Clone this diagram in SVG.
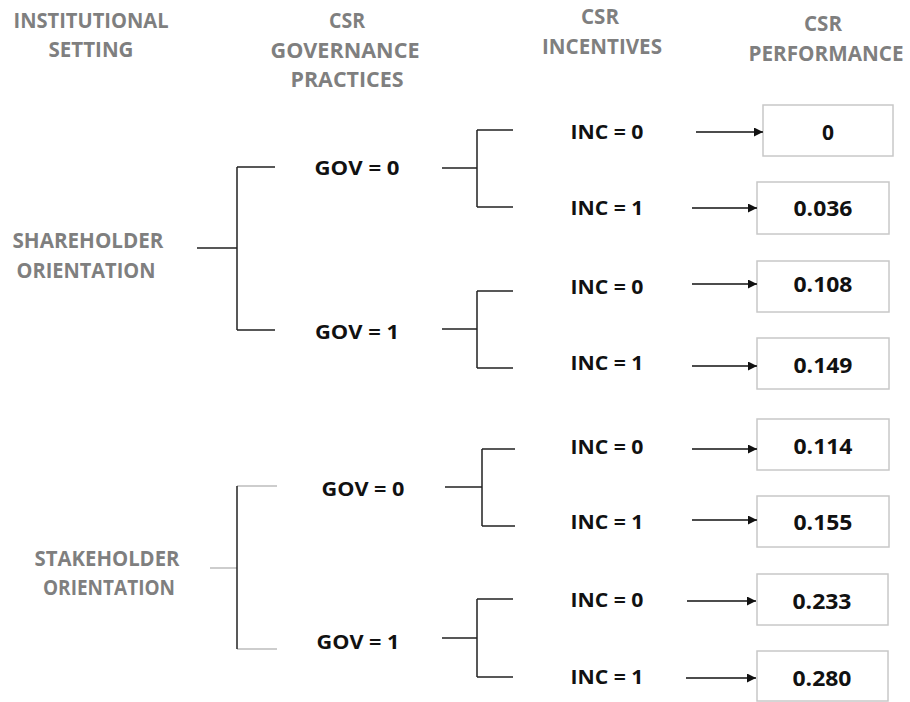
<svg xmlns="http://www.w3.org/2000/svg" width="910" height="702" viewBox="0 0 910 702">
<style>
.hdr{font-family:"Open Sans","Liberation Sans",Arial,sans-serif;font-weight:bold;font-size:21px;fill:#7f7f7f;text-anchor:middle}
.lbl{font-family:"Open Sans","Liberation Sans",Arial,sans-serif;font-weight:bold;font-size:19.5px;fill:#111;text-anchor:middle}
.val{font-family:"Open Sans","Liberation Sans",Arial,sans-serif;font-weight:bold;font-size:21px;fill:#111;text-anchor:middle}
.ln{stroke:#222;stroke-width:1.5;fill:none}
.lt{stroke:#bdbdbd;stroke-width:1.5;fill:none}
.box{fill:#fff;stroke:#c8c8c8;stroke-width:1.5}
.arr{stroke:#111;stroke-width:1.5;fill:none;marker-end:url(#ah)}
</style>
<defs>
<marker id="ah" viewBox="0 0 10 10" refX="10" refY="5" markerWidth="12" markerHeight="9" markerUnits="userSpaceOnUse" orient="auto">
<path d="M0,0 L10,5 L0,10 z" fill="#111"/>
</marker>
</defs>
<rect width="910" height="702" fill="#fff"/>

<g id="headers">
<text class="hdr" x="91" y="28" textLength="155" lengthAdjust="spacingAndGlyphs">INSTITUTIONAL</text>
<text class="hdr" x="91" y="57" textLength="85" lengthAdjust="spacingAndGlyphs">SETTING</text>
<text class="hdr" x="347" y="28" textLength="36" lengthAdjust="spacingAndGlyphs">CSR</text>
<text class="hdr" x="345" y="58" textLength="149" lengthAdjust="spacingAndGlyphs">GOVERNANCE</text>
<text class="hdr" x="347" y="87" textLength="113" lengthAdjust="spacingAndGlyphs">PRACTICES</text>
<text class="hdr" x="600" y="24" textLength="38" lengthAdjust="spacingAndGlyphs">CSR</text>
<text class="hdr" x="602" y="54" textLength="120" lengthAdjust="spacingAndGlyphs">INCENTIVES</text>
<text class="hdr" x="823" y="31" textLength="38" lengthAdjust="spacingAndGlyphs">CSR</text>
<text class="hdr" x="826" y="61" textLength="155" lengthAdjust="spacingAndGlyphs">PERFORMANCE</text>
</g>

<g id="shareholder">
<text class="hdr" x="88" y="248" textLength="151" lengthAdjust="spacingAndGlyphs">SHAREHOLDER</text>
<text class="hdr" x="86" y="278" textLength="139" lengthAdjust="spacingAndGlyphs">ORIENTATION</text>
</g>
<g id="stakeholder">
<text class="hdr" x="107" y="566" textLength="145" lengthAdjust="spacingAndGlyphs">STAKEHOLDER</text>
<text class="hdr" x="109" y="595" textLength="132" lengthAdjust="spacingAndGlyphs">ORIENTATION</text>
</g>

<g id="gov-labels">
<text id="gov0-sh" class="lbl" x="357" y="175" textLength="85" lengthAdjust="spacingAndGlyphs">GOV = 0</text>
<text id="gov1-sh" class="lbl" x="357" y="339" textLength="84" lengthAdjust="spacingAndGlyphs">GOV = 1</text>
<text id="gov0-st" class="lbl" x="363" y="496" textLength="83" lengthAdjust="spacingAndGlyphs">GOV = 0</text>
<text id="gov1-st" class="lbl" x="358" y="649" textLength="83" lengthAdjust="spacingAndGlyphs">GOV = 1</text>
</g>

<g id="inc-labels">
<text class="lbl" x="607" y="139" textLength="73" lengthAdjust="spacingAndGlyphs">INC = 0</text>
<text class="lbl" x="607" y="215" textLength="73" lengthAdjust="spacingAndGlyphs">INC = 1</text>
<text class="lbl" x="607" y="294" textLength="73" lengthAdjust="spacingAndGlyphs">INC = 0</text>
<text class="lbl" x="607" y="370" textLength="73" lengthAdjust="spacingAndGlyphs">INC = 1</text>
<text class="lbl" x="607" y="454" textLength="73" lengthAdjust="spacingAndGlyphs">INC = 0</text>
<text class="lbl" x="607" y="529" textLength="73" lengthAdjust="spacingAndGlyphs">INC = 1</text>
<text class="lbl" x="607" y="607" textLength="73" lengthAdjust="spacingAndGlyphs">INC = 0</text>
<text class="lbl" x="607" y="684" textLength="73" lengthAdjust="spacingAndGlyphs">INC = 1</text>
</g>

<g id="results">
<g id="r1"><rect class="box" x="763" y="105" width="130" height="51"/><text class="val" x="828" y="140">0</text></g>
<g id="r2"><rect class="box" x="757" y="182" width="132" height="52"/><text class="val" x="823" y="216" textLength="59" lengthAdjust="spacingAndGlyphs">0.036</text></g>
<g id="r3"><rect class="box" x="757" y="261" width="132" height="51"/><text class="val" x="823" y="292" textLength="59" lengthAdjust="spacingAndGlyphs">0.108</text></g>
<g id="r4"><rect class="box" x="757" y="338" width="132" height="51"/><text class="val" x="823" y="373" textLength="59" lengthAdjust="spacingAndGlyphs">0.149</text></g>
<g id="r5"><rect class="box" x="757" y="419" width="132" height="51"/><text class="val" x="823" y="454" textLength="59" lengthAdjust="spacingAndGlyphs">0.114</text></g>
<g id="r6"><rect class="box" x="757" y="496" width="132" height="51"/><text class="val" x="823" y="530" textLength="59" lengthAdjust="spacingAndGlyphs">0.155</text></g>
<g id="r7"><rect class="box" x="757" y="574" width="131" height="51"/><text class="val" x="822" y="609" textLength="59" lengthAdjust="spacingAndGlyphs">0.233</text></g>
<g id="r8"><rect class="box" x="757" y="651" width="131" height="50"/><text class="val" x="822" y="686" textLength="59" lengthAdjust="spacingAndGlyphs">0.280</text></g>
</g>

<g id="connectors">
<path class="ln" d="M197,248 H237 M237,167 V330 M237,167 H275 M237,330 H275"/>
<path class="lt" d="M210,568 H237 M237,486 H277 M237,649 H277"/>
<path class="ln" d="M237,486 V649"/>
<path class="ln" d="M442,168 H477 M477,130 V207 M477,130 H513 M477,207 H513"/>
<path class="ln" d="M442,329 H477 M477,291 V368 M477,291 H513 M477,368 H513"/>
<path class="ln" d="M445,487 H482 M482,449 V526 M482,449 H515 M482,526 H515"/>
<path class="ln" d="M442,638 H477 M477,599 V677 M477,599 H513 M477,677 H513"/>
<line class="arr" x1="696" y1="132" x2="763" y2="132"/>
<line class="arr" x1="692" y1="208" x2="757" y2="208"/>
<line class="arr" x1="692" y1="284" x2="757" y2="284"/>
<line class="arr" x1="692" y1="366" x2="757" y2="366"/>
<line class="arr" x1="692" y1="449" x2="757" y2="449"/>
<line class="arr" x1="692" y1="520" x2="757" y2="520"/>
<line class="arr" x1="687" y1="601" x2="756" y2="601"/>
<line class="arr" x1="686" y1="678" x2="756" y2="678"/>
</g>
</svg>
